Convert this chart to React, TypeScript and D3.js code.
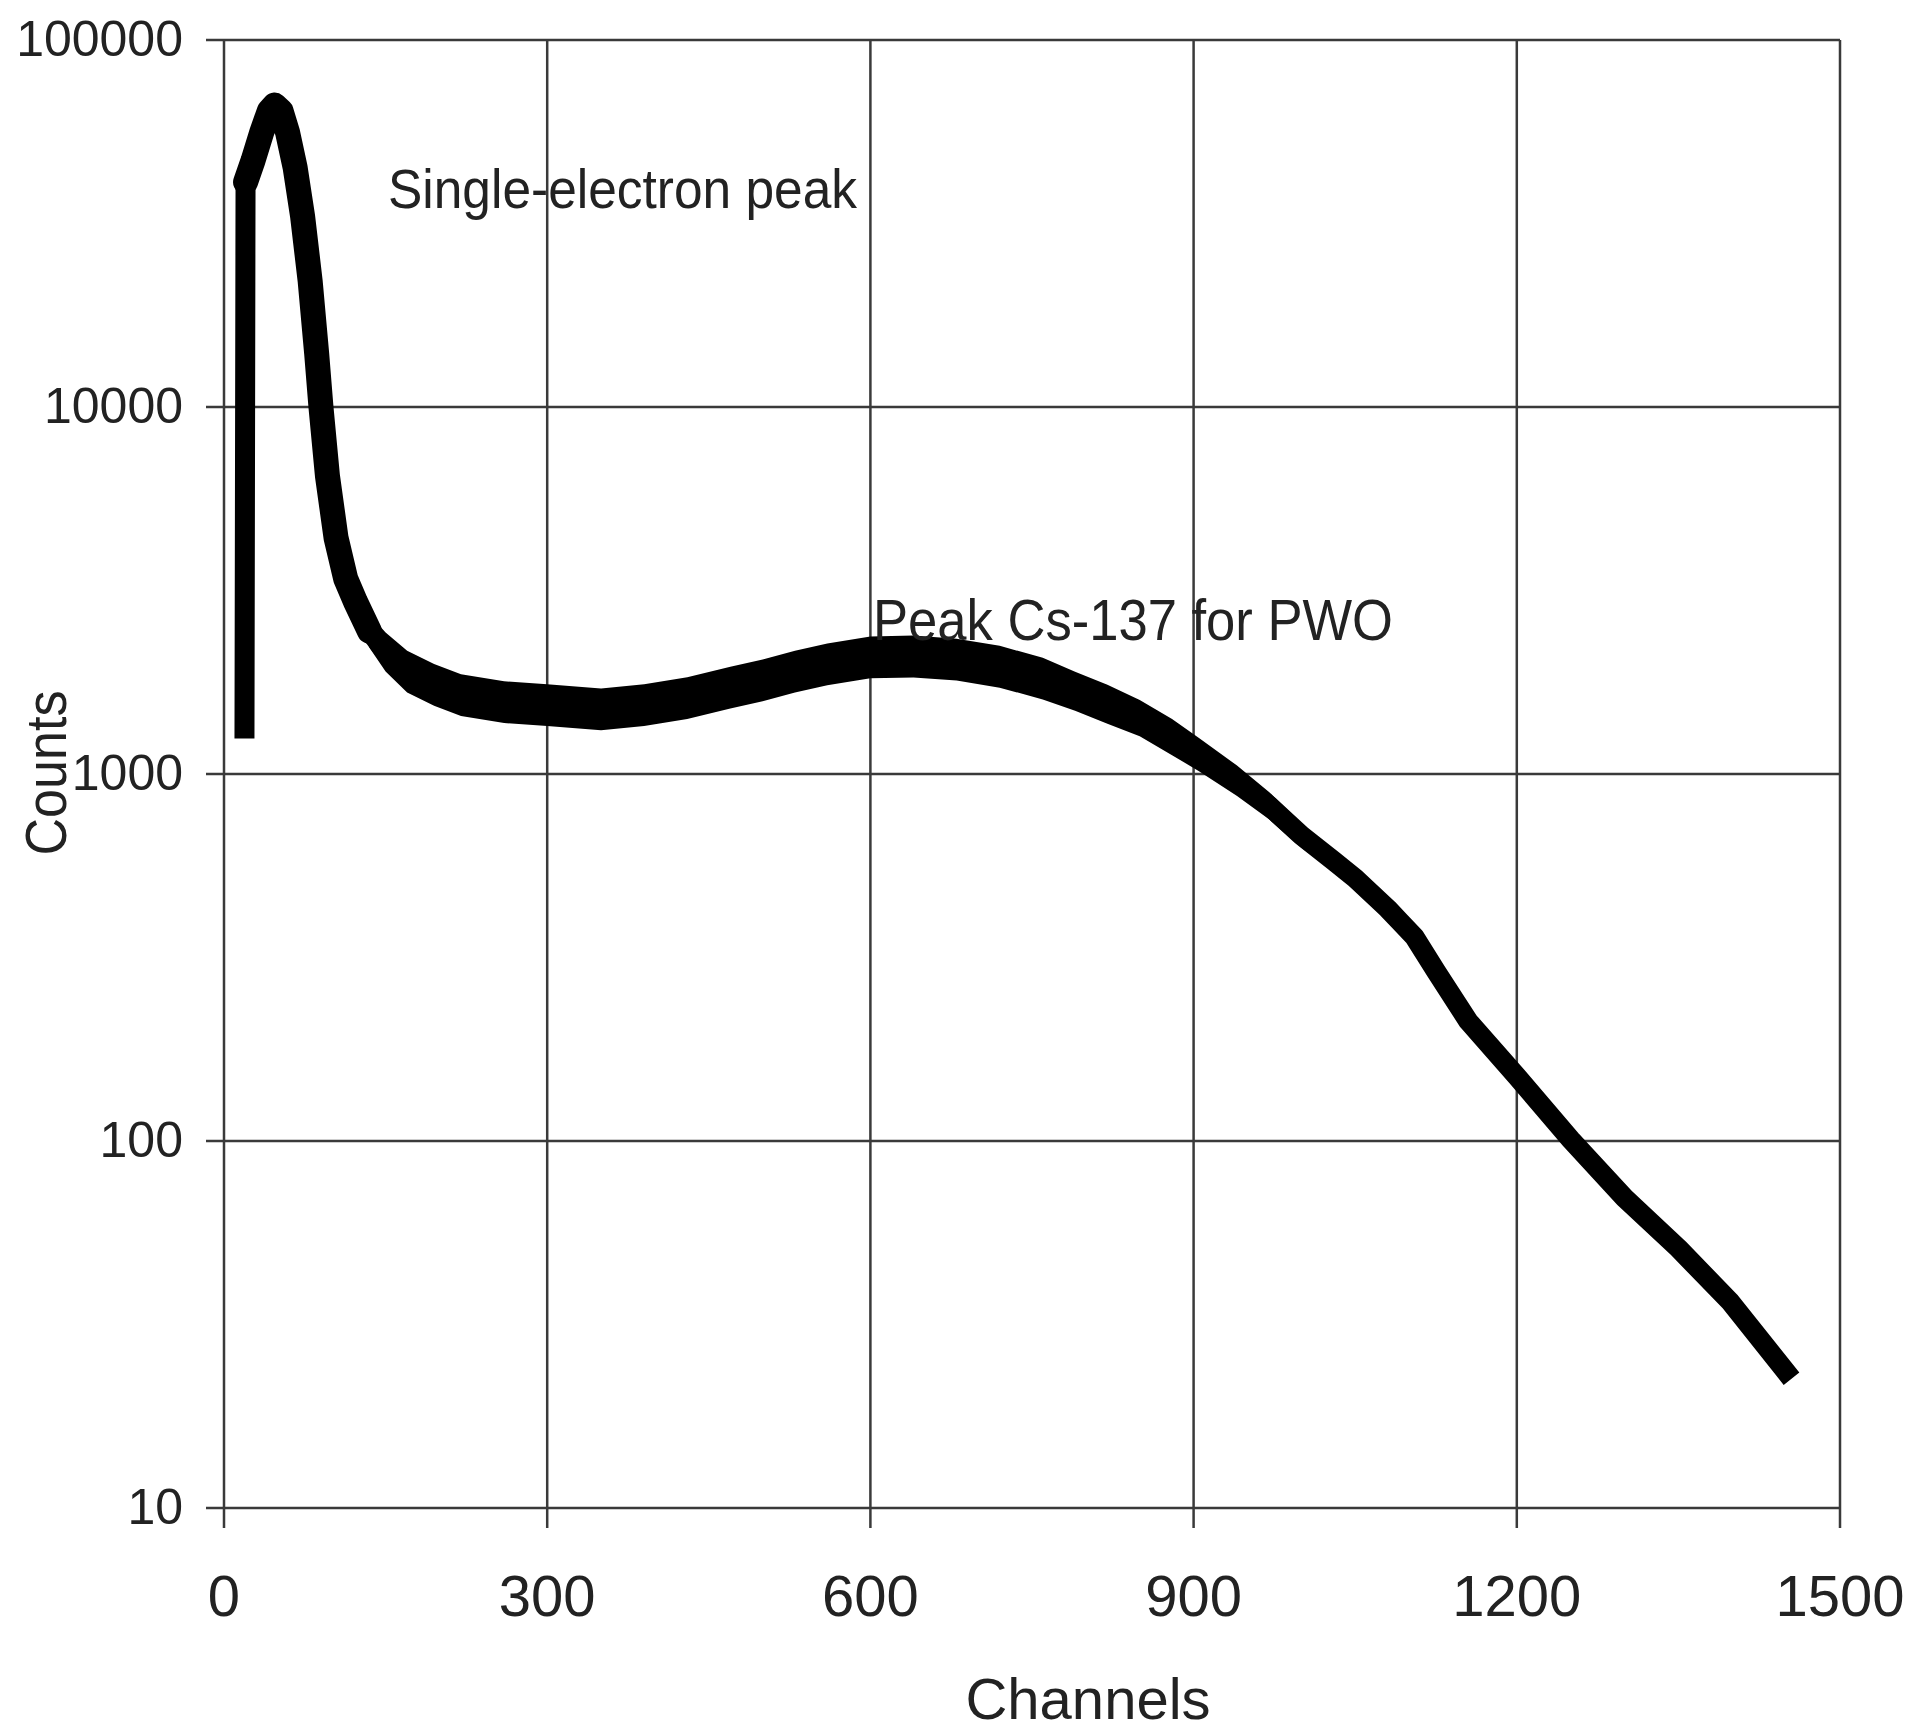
import React from 'react';
import * as d3 from 'd3';

// spectrum (channel, counts)
const channels = [
  19, 20, 27, 35, 42, 47, 53, 59, 66, 73, 80, 86, 90, 96, 104, 113, 122, 135,
  150, 170, 195, 220, 260, 300, 350, 390, 430, 470, 500, 530, 560, 600, 640,
  680, 720, 760, 790, 820, 850, 880, 905, 940, 970, 1000, 1030, 1050, 1080,
  1092, 1105, 1125, 1155, 1200, 1250, 1300, 1350, 1398, 1455,
];
const counts = [
  1250, 41000, 47000, 56000, 64000, 66500, 64000, 56000, 45000, 33000, 22000,
  14000, 10000, 6500, 4400, 3400, 2950, 2450, 2150, 1900, 1750, 1640, 1570,
  1540, 1500, 1540, 1610, 1720, 1800, 1900, 1990, 2080, 2090, 2050, 1960,
  1820, 1680, 1550, 1420, 1260, 1130, 960, 820, 680, 580, 520, 430, 395, 360,
  290, 212, 150, 101, 70, 51, 36.5, 22.5,
];
// scatter of the points around the curve (ratio)
const spread = [
  1, 1, 1.02, 1.03, 1.03, 1.03, 1.03, 1.03, 1.03, 1.03, 1.03, 1.03, 1.03, 1.04,
  1.05, 1.07, 1.09, 1.11, 1.13, 1.14, 1.14, 1.14, 1.14, 1.14, 1.14, 1.14,
  1.14, 1.14, 1.14, 1.14, 1.14, 1.14, 1.14, 1.14, 1.14, 1.14, 1.13, 1.13,
  1.12, 1.12, 1.11, 1.1, 1.09, 1.08, 1.07, 1.06, 1.03, 1.02, 1, 1, 1, 1, 1,
  1, 1, 1, 1,
];
// channel range where the single-electron peak points scatter widely
const peakScatter = [20, 135];

const xTicks = [0, 300, 600, 900, 1200, 1500];
const yTicks = [10, 100, 1000, 10000, 100000];

const font = "'Liberation Sans', Arial, sans-serif";
const gridColor = '#3a3a3a';
const textColor = '#222';

const App = () => {
  const width = 1918;
  const height = 1733;
  const margin = { top: 40, right: 78, bottom: 225, left: 224 };

  const xScale = d3
    .scaleLinear()
    .domain([0, 1500])
    .range([margin.left, width - margin.right]);

  const yScale = d3
    .scaleLog()
    .domain([10, 100000])
    .range([height - margin.bottom, margin.top]);

  const points = channels.map((c, i) => ({ c, v: counts[i], s: spread[i] }));
  const peakPoints = points.filter(
    d => d.c >= peakScatter[0] && d.c <= peakScatter[1]
  );

  const lineGenerator = d3
    .line<any>()
    .x(d => xScale(d.c))
    .y(d => yScale(d.v));

  const bandGenerator = d3
    .area<any>()
    .x(d => xScale(d.c))
    .y0(d => yScale(d.v / d.s))
    .y1(d => yScale(d.v * d.s));

  const x0 = xScale(0);
  const x1 = xScale(1500);
  const yBottom = yScale(10);
  const yTop = yScale(100000);

  return (
    <svg
      width={width}
      height={height}
      viewBox={`0 0 ${width} ${height}`}
      style={{ position: 'absolute', left: 0, top: 0, background: '#fff' }}
    >
      <rect x={0} y={0} width={width} height={height} fill='#fff' />
      <g>
        {yTicks.map(t => (
          <line
            key={`hy-${t}`}
            x1={x0 - 18}
            x2={x1}
            y1={yScale(t)}
            y2={yScale(t)}
            stroke={gridColor}
            strokeWidth='2.5'
          />
        ))}
        {xTicks.map(t => (
          <line
            key={`vx-${t}`}
            x1={xScale(t)}
            x2={xScale(t)}
            y1={yTop}
            y2={yBottom + 20}
            stroke={gridColor}
            strokeWidth='2.5'
          />
        ))}
      </g>
      <path d={bandGenerator(points.slice(1))} fill='#000' stroke='none' />
      <path
        d={lineGenerator(points)}
        fill='none'
        stroke='#000'
        strokeWidth='20'
        strokeLinejoin='round'
        strokeLinecap='butt'
      />
      <path
        d={lineGenerator(peakPoints)}
        fill='none'
        stroke='#000'
        strokeWidth='25'
        strokeLinejoin='round'
        strokeLinecap='round'
      />
      <g fontFamily={font} fill={textColor}>
        {yTicks.map(t => (
          <text
            key={`yl-${t}`}
            x={183}
            y={yScale(t) - 1}
            fontSize='50'
            textAnchor='end'
            dominantBaseline='central'
          >
            {t}
          </text>
        ))}
        {xTicks.map(t => (
          <text
            key={`xl-${t}`}
            x={xScale(t)}
            y={1616}
            fontSize='58'
            textAnchor='middle'
          >
            {t}
          </text>
        ))}
        <text x={1088} y={1719} fontSize='58' textAnchor='middle'>
          Channels
        </text>
        <text
          transform={`translate(66, 773) rotate(-90)`}
          fontSize='58'
          textAnchor='middle'
          textLength='165'
          lengthAdjust='spacingAndGlyphs'
        >
          Counts
        </text>
        <text
          x={388}
          y={208}
          fontSize='55'
          textLength='469'
          lengthAdjust='spacingAndGlyphs'
        >
          Single-electron peak
        </text>
        <text
          x={873}
          y={640}
          fontSize='58'
          textLength='520'
          lengthAdjust='spacingAndGlyphs'
        >
          Peak Cs-137 for PWO
        </text>
      </g>
    </svg>
  );
};

export default App;
